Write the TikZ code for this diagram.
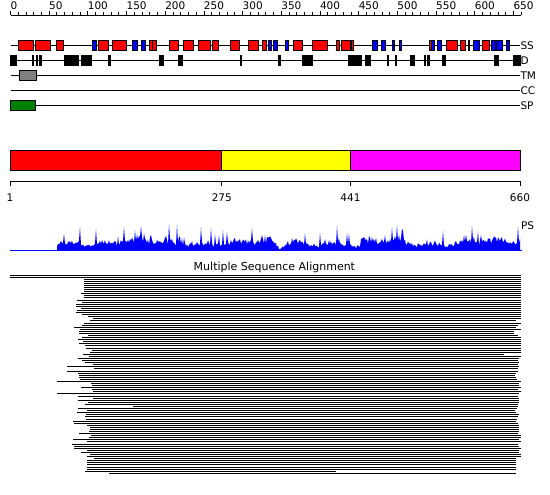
\documentclass[tikz,border=0pt]{standalone}
\usepackage{fontspec}
\setmainfont{DejaVu Sans}
\definecolor{ssred}{RGB}{255,0,0}
\definecolor{ssblue}{RGB}{0,0,255}
\definecolor{domyellow}{RGB}{255,255,0}
\definecolor{dommag}{RGB}{255,0,255}
\definecolor{tmgray}{RGB}{128,128,128}
\definecolor{spgreen}{RGB}{0,128,0}
\begin{document}
\begin{tikzpicture}[x=1pt,y=-1pt,
  font=\fontsize{10.5}{12}\selectfont,
  box/.style={draw=black,line width=0.9pt},
  trk/.style={draw=black,line width=0.9pt},
  lbl/.style={inner sep=0pt,outer sep=0pt}]
\useasboundingbox[fill=white] (0,0) rectangle (550,495);

% ---- top ruler
\draw[trk] (10.5,15) -- (521.3,15);
\foreach \k in {0,...,66}{
  \pgfmathsetmacro\xx{10.5+7.739*\k}
  \pgfmathsetmacro\tl{mod(\k,5)==0 ? 4 : 2.6}
  \draw[trk] (\xx,15) -- (\xx,15-\tl);
}
\foreach \r in {0,50,...,650}{
  \node[lbl,anchor=base west] (rl\r) at ({10.5+0.7739*\r},10) {\r};
}

% ---- feature tracks
\foreach \y/\n in {45/SS,60/D,75/TM,90/CC,105/SP}{
  \draw[trk] (10.5,\y) -- (520,\y);
  \node[lbl,anchor=base west] (lab\n) at (520.5,\y+4.3) {\n};
}
% SS red
\foreach \a/\b in {18.3/33.3,35.3/50.7,56.3/63.7,98.7/108.7,112.3/126.7,149.3/152.3,152.5/156.7,169.3/178.3,183.3/193.7,198.3/210.7,212.3/218,230.3/239.7,248.3/258.7,262.3/266.7,293.3/302.7,312.7/327.3,336.3/339.7,341.3/350,351/353.3,429.3/431.5,446.7/457.5,460.7/465.5,482.3/489.3}{
  \filldraw[box,fill=ssred] (\a,40.5) rectangle (\b,50.5);
}
% SS blue
\foreach \a/\b in {92.3/96,132.3/137.7,141.5/145.7,268/271.7,273.3/277.5,285.7/288.3,372.3/377.3,381.3/385.7,392/394.3,399/401.3,431.5/434,437.7/441.7,468.3/469.7,473.3/479.3,491.3/495.7,496.7/502.9,506.5/509.3}{
  \filldraw[box,fill=ssblue] (\a,40.5) rectangle (\b,50.5);
}
% D boxes
\foreach \a/\b in {10.5/16,32/33.3,36/37.3,39.7/41.3,64/78.7,81/91.7,108.3/110.7,159.3/163.7,178.3/182.7,240.8/241.2,278.5/280,302/303.3,304.3/312.7,348/361.7,365/370.7,387.3/388.7,395/396.7,410/414.3,424.3/425.7,427.3/429.3,442.7/445.7,494.3/498.7,513.3/520.7}{
  \filldraw[box,fill=black] (\a,55.5) rectangle (\b,65.5);
}
% TM and SP
\filldraw[box,fill=tmgray] (19.3,70.5) rectangle (36.7,80.5);
\filldraw[box,fill=spgreen] (10.5,100.5) rectangle (35.7,110.5);

% ---- domain bar
\filldraw[box,fill=ssred] (10,150.5) rectangle (221.8,170.8);
\filldraw[box,fill=domyellow] (221.8,150.5) rectangle (350.5,170.8);
\filldraw[box,fill=dommag] (350.5,150.5) rectangle (520,170.8);
\draw[trk] (10,181) -- (520,181);
\foreach \x/\t in {10/1,221.8/275,350.5/441,520/660}{
  \draw[trk] (\x,181) -- (\x,186);
  \node[lbl,anchor=base] (ax\t) at (\x,201) {\t};
}

% ---- PS profile
\pgfmathsetseed{2024}
\draw[ssblue,line width=0.9pt] (10,250.5) -- (522,250.5);
\fill[ssblue] (57,250.5) \foreach \x in {57,...,520}{
  -- (\x,{250.5-min(26,(1-0.85*max(0,1-abs(\x-280)/9)-0.7*max(0,1-abs(\x-356)/7))*((0.9+0.25*sin(3.1*\x)+0.15*sin(11*\x+30))*(5+6*rnd+9*rnd*rnd*rnd)+(rnd<0.12)*(5+12*rnd)))})
} -- (520,250.5) -- cycle;
\node[lbl,anchor=base west] (ps) at (521,229.5) {PS};

% ---- multiple sequence alignment
\node[lbl,anchor=base,font=\fontsize{11}{13}\selectfont] (msa) at (274.4,270) {Multiple Sequence Alignment};
\foreach \s/\e [count=\i] in {
10/520.7,10/520.7,84/520.7,84/520.7,84/520.7,84/520.7,84/520.7,84/520.7,84/520.7,81/520.7,
84/520.7,84/520.7,77/520.7,82/520.7,76/520.7,76/520.7,81/520.7,77/520.7,76/520.7,82/520.7,
88/520.7,93/520.7,90/515.7,84/520.7,82/518.3,74/515.7,80/520.7,79/514.3,79/514.3,88/517.7,
82/520.7,78/520.7,83/520.7,79/520.7,85/520.7,86/520.7,92/520.7,90/520.7,83/503.7,89/520.7,
78/519.3,82/518.3,85/519.3,93/518.3,67/519.3,94/517.7,67/518.3,78/515.7,79/515,79/515.7,
80/517,57/520.7,91/519,92/519.3,81/520.7,92/518.3,93/520.7,57/519.3,78/517.7,93/519.3,
78/519.3,88/519.3,85/518.3,133/518,78/517,87/515,77/516.3,86/519,85/517.7,86/517,
73/515.7,74/518.3,87/519,90/519.3,90/519.3,89/519.3,79/517.7,91/520.7,89/520.7,73/519,
87/520.7,72/518.3,74/519.3,74/520.7,87/519.3,81/519.3,90/520.7,87/520.7,94/515.7,87/515.7,
87/515.7,87/515.7,87/515.7,87/515.7,85/335.7,109/515.7}{
  \draw[line width=0.95pt] (\s,{275+(\i-1)*2.087}) -- (\e,{275+(\i-1)*2.087});
}
\end{tikzpicture}
\end{document}
